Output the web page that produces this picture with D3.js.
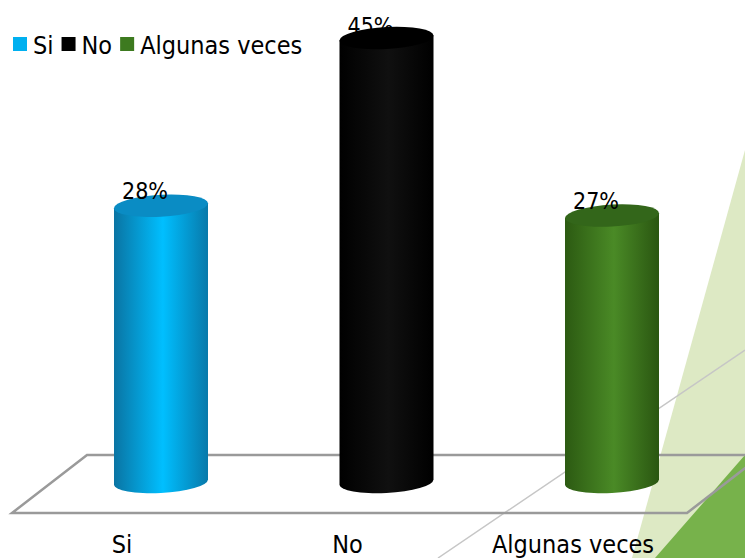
<!DOCTYPE html>
<html><head><meta charset="utf-8">
<script src="https://cdn.jsdelivr.net/npm/d3@7"></script>
<style>body{margin:0;background:#fff}svg{display:block}</style>
</head><body>
<svg id="c" width="745" height="558"></svg>
<script>
const categories = ["Si", "No", "Algunas veces"];
const values = [28, 45, 27];
const labels = ["28%", "45%", "27%"];
const legendColors = ["#00b0f0", "#000000", "#3d7a1f"];
const colorSets = {
  "Si": ["#0a74a3", "#00bfff", "#0879aa", "#0a8cc4"],
  "No": ["#000000", "#101010", "#000000", "#000000"],
  "Algunas veces": ["#2c5a12", "#4a8a26", "#2a5611", "#33661a"]
};

const svg = d3.select("#c");
const font = "'DejaVu Sans Condensed', 'DejaVu Sans', sans-serif";

const x = d3.scalePoint().domain(categories).range([161, 612]);
const y = d3.scaleLinear().domain([0, 45]).range([482, 38]);
const rx = 47, ry = 11;

// background decoration
svg.append("polygon").attr("points", "745,150 632,558 745,558").attr("fill", "#dde9c4");
svg.append("polygon").attr("points", "745,455 655,558 745,558").attr("fill", "#77b24b");
svg.append("line").attr("x1", 438).attr("y1", 558).attr("x2", 745).attr("y2", 350)
  .attr("stroke", "#c6c6c6").attr("stroke-width", 1.5);

// floor
svg.append("polygon").attr("points", "87,455 762,455 687,513 12,513")
  .attr("fill", "none").attr("stroke", "#9a9a9a").attr("stroke-width", 2.5);

// gradients
const defs = svg.append("defs");
categories.forEach((c, i) => {
  const g = defs.append("linearGradient").attr("id", "g" + i)
    .attr("x1", "0%").attr("x2", "100%").attr("y1", "0%").attr("y2", "0%");
  const cs = colorSets[c];
  g.append("stop").attr("offset", "0%").attr("stop-color", cs[0]);
  g.append("stop").attr("offset", "52%").attr("stop-color", cs[1]);
  g.append("stop").attr("offset", "100%").attr("stop-color", cs[2]);
});

// value labels (drawn behind the bar tops, as in the original for the tall bar)
const valG = svg.append("g");

// bars
categories.forEach((c, i) => {
  const cx = x(c), top = y(values[i]), bot = y(0);
  const g = svg.append("g").attr("transform", `translate(${cx},0) skewY(-3)`);
  g.append("path")
    .attr("d", `M${-rx},${top} L${-rx},${bot} A${rx},${ry} 0 0 0 ${rx},${bot} L${rx},${top} Z`)
    .attr("fill", `url(#g${i})`);
  g.append("ellipse").attr("cx", 0).attr("cy", top).attr("rx", rx).attr("ry", ry)
    .attr("fill", colorSets[c][3]);
});

svg.selectAll("text.val").data(categories).enter().append("text")
  .attr("class", "val")
  .attr("x", d => x(d) - 16)
  .attr("y", (d, i) => y(values[i]) - (values[i] === d3.max(values) ? 4 : 7))
  .attr("text-anchor", "middle")
  .attr("font-family", font).attr("font-size", 23).attr("fill", "#000")
  .text((d, i) => labels[i])
  .each(function(d, i) { if (values[i] === d3.max(values)) valG.node().appendChild(this); });

// category labels
svg.selectAll("text.cat").data(categories).enter().append("text")
  .attr("class", "cat")
  .attr("x", d => x(d) - 39)
  .attr("y", 553)
  .attr("text-anchor", "middle")
  .attr("font-family", font).attr("font-size", 25).attr("fill", "#000")
  .text(d => d);

// legend
const lg = svg.append("g");
let lx = 13;
categories.forEach((c, i) => {
  lg.append("rect").attr("x", lx).attr("y", 37).attr("width", 14).attr("height", 14)
    .attr("fill", legendColors[i]);
  const t = lg.append("text").attr("x", lx + 20).attr("y", 54)
    .attr("font-family", font).attr("font-size", 25).attr("fill", "#000").text(c);
  lx += 20 + t.node().getComputedTextLength() + 8;
});
</script>
</body></html>
